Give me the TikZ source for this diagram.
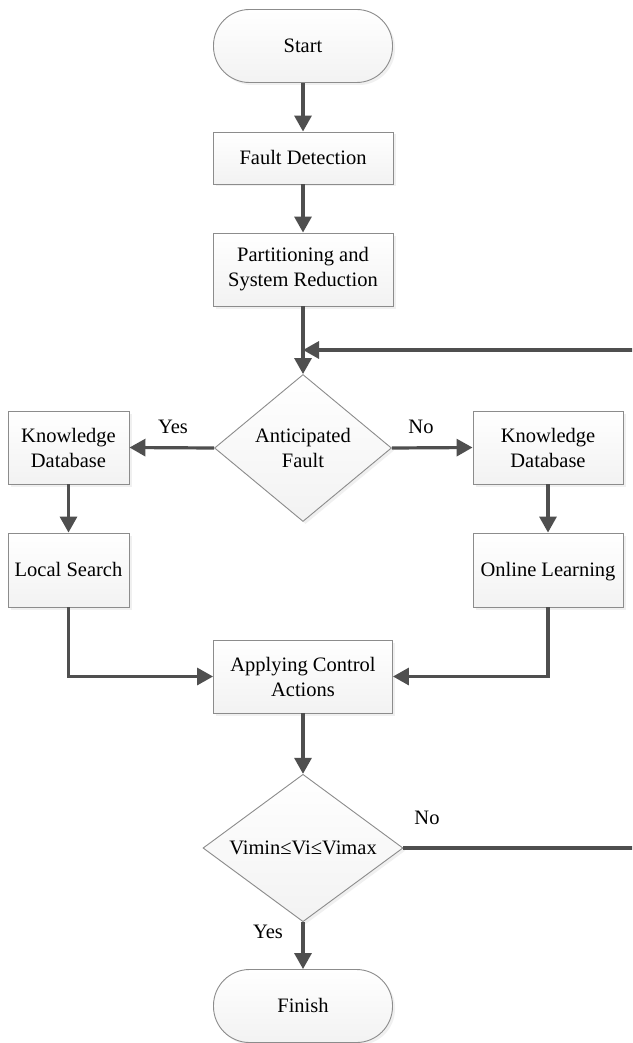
\documentclass[tikz,border=0pt]{standalone}
\usepackage{fontspec}
\setmainfont{Liberation Serif}
\usetikzlibrary{shapes.geometric,arrows.meta,shadows}
\definecolor{linec}{HTML}{4F4F4F}
\definecolor{bordc}{HTML}{8C8C8C}
\newcommand\capstrut{\rule[-5.5pt]{0pt}{24.5pt}}
\begin{document}
\begin{tikzpicture}[x=1pt,y=-1pt,
  font=\fontsize{20.5}{25}\selectfont,
  base/.style={draw=bordc,line width=0.9pt,top color=white,bottom color=black!5,
    drop shadow={shadow xshift=2.5pt,shadow yshift=-2.5pt,fill=black!6,opacity=1},
    align=center,inner sep=0pt},
  procbox/.style={base,rectangle},
  term/.style={base,rectangle,rounded corners=36pt,minimum width=179pt,minimum height=73pt},
  decis/.style={base,diamond,aspect=1.2},
  arr/.style={draw=linec,line width=3.2pt,-{Triangle[length=16pt,width=17pt]}},
  lbl/.style={font=\fontsize{20.5}{25}\selectfont}
]
\useasboundingbox (0,0) rectangle (632,1043);
\clip (0,0) rectangle (632,1043);
\fill[white] (0,0) rectangle (632,1043);

\node[term] (start) at (303,46) {\capstrut Start};
\node[procbox,minimum width=180pt,minimum height=52pt] (fd) at (303,158) {\capstrut Fault Detection};
\node[procbox,minimum width=180pt,minimum height=73pt] (part) at (303,269.5) {Partitioning and\\System Reduction};
\node[decis,minimum width=177pt,minimum height=147pt] (dec1) at (303,448) {Anticipated\\Fault};
\node[procbox,minimum width=121pt,minimum height=73pt] (kdl) at (68.5,447.5) {Knowledge\\Database};
\node[procbox,minimum width=150pt,minimum height=73pt] (kdr) at (548,447.5) {Knowledge\\Database};
\node[procbox,minimum width=121pt,minimum height=74pt] (ls) at (68.5,570) {\capstrut Local Search};
\node[procbox,minimum width=150pt,minimum height=74pt] (ol) at (548,570) {\capstrut Online Learning};
\node[procbox,minimum width=179pt,minimum height=73pt] (apply) at (303,676.5) {Applying Control\\Actions};
\node[decis,minimum width=200pt,minimum height=146pt] (dec2) at (303,848) {\capstrut Vimin≤Vi≤Vimax};
\node[term] (finish) at (303,1006) {\capstrut Finish};

\node[lbl] (yes1) at (173,427) {Yes};
\node[lbl] (no1) at (421,427) {No};
\node[lbl] (no2) at (427,818) {No};
\node[lbl] (yes2) at (268,932) {Yes};

\coordinate (join) at (303,350);
\coordinate (fbr) at (645,600);

\draw[arr] (start) -- (fd);
\draw[arr] (fd) -- (part);
\draw[arr] (part) -- (dec1);
\draw[arr] (dec1.west) -- (kdl.east);
\draw[arr] (dec1.east) -- (kdr.west);
\draw[arr] (kdl) -- (ls);
\draw[arr] (kdr) -- (ol);
\draw[arr] (ls.south) |- (apply.west);
\draw[arr] (ol.south) |- (apply.east);
\draw[arr] (apply) -- (dec2);
\draw[arr] (dec2.south) -- (finish);
\draw[arr] (dec2.east) -| (fbr) |- (join);
\end{tikzpicture}
\end{document}
